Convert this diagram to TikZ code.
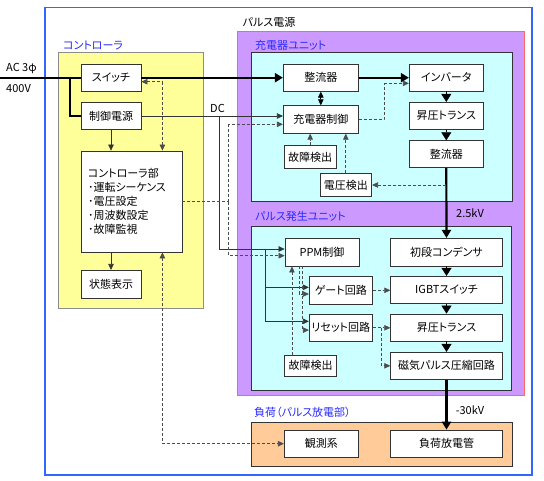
\documentclass[tikz,border=0pt]{standalone}
\usepackage{fontspec}
\setmainfont[RawFeature=+palt]{Noto Sans CJK JP}
\usetikzlibrary{arrows.meta,calc}
\definecolor{frameblue}{RGB}{51,102,255}
\definecolor{labelblue}{RGB}{40,40,255}
\definecolor{ylw}{RGB}{255,255,153}
\definecolor{purp}{RGB}{204,153,255}
\definecolor{redb}{RGB}{255,102,102}
\definecolor{cyn}{RGB}{204,255,255}
\definecolor{orng}{RGB}{255,204,153}
\begin{document}
\begin{tikzpicture}[x=1pt,y=-1pt,
  font=\fontsize{11}{12}\selectfont,
  box/.style={draw=black!80, line width=0.8pt, fill=white, inner sep=0pt, align=center},
  region/.style={line width=0.8pt},
  lbl/.style={text=labelblue, anchor=west, inner sep=0pt},
  txt/.style={inner sep=0pt},
  power/.style={line width=2.2pt, line join=miter},
  powarr/.style={power, -{Triangle[length=8pt,width=9pt]}},
  bigarr/.style={line width=0.6pt, -{Triangle[length=8pt,width=10pt]}},
  sl/.style={line width=0.7pt, draw=black!80},
  dsh/.style={line width=0.7pt, draw=black!70, dash pattern=on 3pt off 2pt},
  tip/.style={-{Triangle[length=6pt,width=5.5pt]}},
  tips/.style={{Triangle[length=6pt,width=5.5pt]}-{Triangle[length=6pt,width=5.5pt]}}
]
\useasboundingbox (0,0) rectangle (544,480);
\fill[white] (0,0) rectangle (544,480);
% regions
\draw[frameblue, line width=1.3pt] (45,7.5) rectangle (532,475);
\draw[region, draw=black!45, fill=ylw] (58.3,52.3) rectangle (203.3,308.7);
\draw[region, draw=redb, fill=purp, line width=1pt] (237.7,31) rectangle (524,395);
\draw[region, draw=black!80, fill=cyn] (251.7,52.3) rectangle (512.3,201.7);
\draw[region, draw=black!80, fill=cyn] (251.7,226.7) rectangle (511.7,390.7);
\draw[region, draw=black!80, fill=orng] (251.7,422.3) rectangle (512.3,466);

% labels
\node[txt] (tpsu) at (269,22) {パルス電源};
\node[lbl] (tctl) at (63,45) {コントローラ};
\node[lbl] (tchg) at (255,45) {充電器ユニット};
\node[lbl] (tpul) at (255,216.7) {パルス発生ユニット};
\node[lbl] (tload) at (254,412.3) {負荷（パルス放電部）};
\node[txt, anchor=west] (tac) at (6,68) {AC 3φ};
\node[txt, anchor=west] (tv) at (6,89) {400V};
\node[txt] (tdc) at (217.5,108.5) {DC};
\node[txt] (t25) at (470,213.3) {2.5kV};
\node[txt] (t30) at (470,410) {-30kV};

% controller nodes
\node[box, minimum width=60pt, minimum height=27pt] (sw) at (111,77.7) {スイッチ};
\node[box, minimum width=60pt, minimum height=27pt] (pwr) at (111,116) {制御電源};
\node[box, text width=87pt, inner xsep=7pt, minimum height=101pt, align=left,
      font=\fontsize{11}{14}\selectfont] (ctl) at (131.5,201.5)
      {コントローラ部\\･運転シーケンス\\･電圧設定\\･周波数設定\\･故障監視};
\node[box, minimum width=60pt, minimum height=28pt] (disp) at (111,284.3) {状態表示};

% charger unit
\node[box, minimum width=75pt, minimum height=27pt] (rec1) at (320.8,77.7) {整流器};
\node[box, minimum width=75pt, minimum height=27.6pt] (chg) at (320.8,119.5) {充電器制御};
\node[box, minimum width=52pt, minimum height=22.6pt] (flt1) at (310.2,157) {故障検出};
\node[box, minimum width=51.7pt, minimum height=23.4pt] (vdet) at (345.8,185) {電圧検出};
\node[box, minimum width=74pt, minimum height=26.7pt] (inv) at (446.3,77.7) {インバータ};
\node[box, minimum width=74pt, minimum height=27pt] (tr1) at (446.3,115.8) {昇圧トランス};
\node[box, minimum width=74pt, minimum height=27pt] (rec2) at (446.3,154.2) {整流器};

% pulse unit
\node[box, minimum width=74pt, minimum height=27.7pt] (ppm) at (322,252.2) {PPM制御};
\node[box, minimum width=111.6pt, minimum height=27.7pt] (cap) at (446.5,252.2) {初段コンデンサ};
\node[box, minimum width=63pt, minimum height=28pt] (gate) at (340.8,290.3) {ゲート回路};
\node[box, minimum width=111.6pt, minimum height=27pt] (igbt) at (446.5,289.8) {IGBTスイッチ};
\node[box, minimum width=63pt, minimum height=27.7pt] (reset) at (340.8,327.8) {リセット回路};
\node[box, minimum width=111.6pt, minimum height=27pt] (tr2) at (446.5,327.5) {昇圧トランス};
\node[box, minimum width=111.6pt, minimum height=27pt] (mpc) at (446.5,365.8) {磁気パルス圧縮回路};
\node[box, minimum width=52.3pt, minimum height=21.7pt] (flt2) at (310.5,365.8) {故障検出};

% load
\node[box, minimum width=74pt, minimum height=27.3pt] (obs) at (321.3,443.7) {観測系};
\node[box, minimum width=111.6pt, minimum height=27.3pt] (load) at (446.5,443.7) {負荷放電管};

% coordinates
\coordinate (acin) at (0,77.7);
\coordinate (acbr) at (70,77.7);
\coordinate (dcbr) at (219.3,116);
\coordinate (dj) at (228.7,201.5);
\coordinate (kinv) at (384,83.3);
\coordinate (invin2) at ($(inv.west)+(0,5.6)$);
\coordinate (chgin2) at ($(chg.west)+(0,4.8)$);
\coordinate (ppmin1) at ($(ppm.west)+(0,-3.2)$);
\coordinate (ppmin2) at ($(ppm.west)+(0,3.5)$);
\coordinate (pb) at (265,249);
\coordinate (gatein1) at ($(gate.west)+(0,-3)$);
\coordinate (gatein2) at ($(gate.west)+(0,3.7)$);
\coordinate (resin1) at ($(reset.west)+(0,-6.5)$);
\coordinate (resin2) at ($(reset.west)+(0,2.3)$);
\coordinate (ppmo1) at ($(ppm.south west)+(14.3,0)$);
\coordinate (ppmo2) at ($(ppm.south west)+(17.3,0)$);
\coordinate (f2o) at ($(flt2.north west)+(8,0)$);
\coordinate (rb) at (381.7,327.8);
\coordinate (swc) at ($(sw.east)+(0,4)$);
\coordinate (ctlt) at ($(ctl.north east)+(-20,0)$);
\coordinate (ctlb) at ($(ctl.south east)+(-20,0)$);

% power lines
\draw[power] (acin) -- (sw.west);
\draw[power] (acbr) |- (pwr.west);
\draw[powarr] (sw.east) -- (rec1.west);
\draw[powarr] (rec1.east) -- (inv.west);
\draw[powarr] (rec2.south) -- (cap.north);
\draw[powarr] (mpc.south) -- (load.north);

% big arrows in right column
\draw[bigarr] (inv.south) -- (tr1.north);
\draw[bigarr] (tr1.south) -- (rec2.north);
\draw[bigarr] (cap.south) -- (igbt.north);
\draw[bigarr] (igbt.south) -- (tr2.north);
\draw[bigarr] (tr2.south) -- (mpc.north);

% controller internal
\draw[sl, tip] (pwr.south) -- (pwr.south |- ctl.north);
\draw[sl, tip] (disp.north |- ctl.south) -- (disp.north);
\draw[dsh, tips] (swc) -| (ctlt);
\draw[dsh, tips] (ctlb) |- (obs.west);

% DC supply
\draw[sl, tip] (pwr.east) -- (pwr.east -| chg.west);
\draw[sl, tip] (dcbr) |- (ppmin1);
\draw[sl, tip] (pb) |- (gatein1);
\draw[sl, tip] (pb) |- (resin1);

% control signals from controller
\draw[dsh] (ctl.east) -- (dj);
\draw[dsh, tip] (dj) |- (chgin2);
\draw[dsh, tip] (dj) |- (ppmin2);

% charger unit signals
\draw[line width=0.7pt, tips] (rec1.south) -- (chg.north);
\draw[dsh, tip] (flt1.north) -- (flt1.north |- chg.south);
\draw[dsh, tip] (vdet.north) -- (vdet.north |- chg.south);
\draw[dsh, tip] (vdet.east -| rec2.south) -- (vdet.east);
\draw[dsh] (chg.east) -| (kinv);
\draw[dsh, tip] (kinv) -- (invin2);

% pulse unit signals
\draw[dsh, tip] (ppmo1) |- (gatein2);
\draw[dsh, tip] (ppmo2) |- (resin2);
\draw[dsh, tip] (f2o) -- (f2o |- ppm.south);
\draw[dsh, tip] (gate.east) -- (gate.east -| igbt.west);
\draw[dsh, tip] (reset.east) -- (reset.east -| tr2.west);
\draw[dsh, tip] (rb) |- (mpc.west);
\end{tikzpicture}
\end{document}
